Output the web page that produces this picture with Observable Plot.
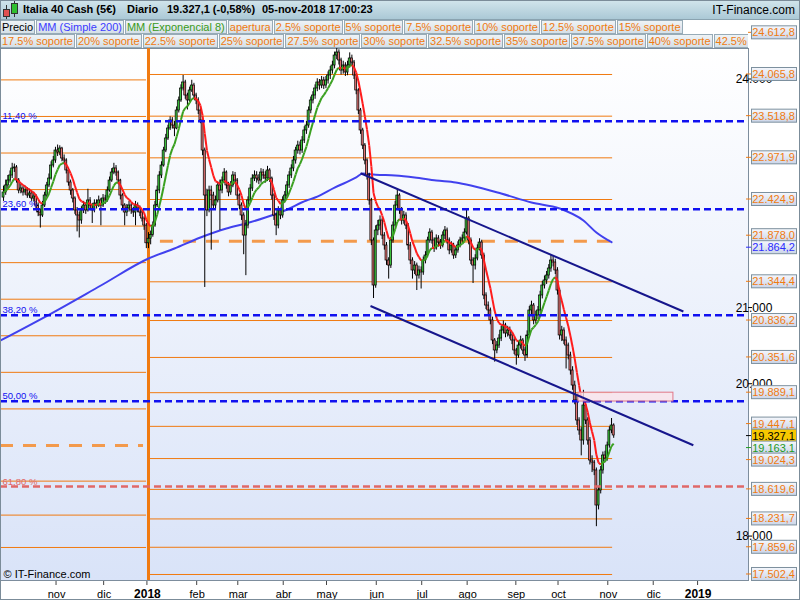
<!DOCTYPE html>
<html>
<head>
<meta charset="utf-8">
<script src="https://cdn.jsdelivr.net/npm/d3@7"></script>
<script src="https://cdn.jsdelivr.net/npm/@observablehq/plot@0.6"></script>
<style>
  html,body{margin:0;padding:0;background:#fff;}
  #wrap{position:relative;width:800px;height:600px;overflow:hidden;font-family:"Liberation Sans",Arial,Helvetica,sans-serif;}
  #chart{position:absolute;left:0;top:0;}
  #row1{position:absolute;left:0;top:0;width:800px;height:20px;background:linear-gradient(#d2e5ec,#abc9d6);border-bottom:1px solid #8aa3b0;box-sizing:border-box;}
  #row1 .t{position:absolute;top:3px;font-size:11px;font-weight:bold;color:#000;white-space:nowrap;}
  #row1 .site{position:absolute;top:3px;right:5px;font-size:12px;color:#000;}
  .row{position:absolute;left:0;width:748px;height:14px;overflow:hidden;white-space:nowrap;background:#fff;font-size:0;}
  .row span{display:inline-block;box-sizing:border-box;height:14px;line-height:12px;padding:0 1px;margin-right:1px;font-size:11px;background:linear-gradient(#eef3f6,#d5e0e7);border:1px solid #97abb7;color:#f07a10;vertical-align:top;}
  #border{position:absolute;left:0;top:0;width:800px;height:600px;box-sizing:border-box;border:1px solid #7b8c99;pointer-events:none;}
  .ic{position:absolute;border:1px solid #333;box-sizing:border-box;}
  .wk{position:absolute;width:1px;background:#333;}
</style>
</head>
<body>
<div id="wrap">
  <div id="chart"></div>
  <div id="row1">
    <div class="wk" style="left:6px;top:5px;height:14px"></div>
    <div class="ic" style="left:3px;top:9px;width:7px;height:8px;background:#e05050"></div>
    <div class="wk" style="left:14px;top:1px;height:16px"></div>
    <div class="ic" style="left:11px;top:3px;width:7px;height:11px;background:#30c030"></div>
    <span class="t" style="left:23px">Italia 40 Cash (5€)</span>
    <span class="t" style="left:127px">Diario</span>
    <span class="t" style="left:167px">19.327,1 (-0,58%)</span>
    <span class="t" style="left:262px">05-nov-2018 17:00:23</span>
    <span class="site">IT-Finance.com</span>
  </div>
  <div class="row" id="row2" style="top:20px"></div>
  <div class="row" id="row3" style="top:34px"></div>
  <div id="border"></div>
</div>
<script>
// ---------------- data ----------------
const firstIdx = -67;          // trading-day index of first candle (0 = first session of 2018)
const firstOpen = 22450;
const closes = [
 22517,22609,22674,22740,22832,22845,22674,22543,22569,22517,
 22543,22477,22504,22438,22464,22346,22254,22215,22346,22477,
 22609,22700,22871,22937,23068,23042,23094,22963,22937,22806,
 22648,22543,22438,22281,22215,22149,22281,22346,22281,22412,
 22346,22281,22372,22346,22412,22346,22438,22412,22543,22674,
 22779,22832,22779,22674,22477,22346,22254,22307,22346,22281,
 22254,22346,22307,22254,22175,22083,21850,
 21910,21960,22083,22346,22543,22740,22871,23068,23226,23357,
 23462,23396,23357,23593,23725,23882,23961,23790,23725,23856,
 23921,23790,23725,23593,23462,23068,22477,22281,22543,22477,
 22346,22412,22609,22543,22674,22779,22609,22517,22609,22740,
 22674,22477,22346,22215,21952,22083,22412,22569,22700,22740,
 22700,22674,22779,22740,22700,22806,22700,22477,22215,22083,
 22281,22215,22412,22477,22609,22740,22832,22937,23068,23133,
 23068,23199,23331,23396,23593,23725,23790,23882,23961,23921,
 23987,23921,23987,24053,24118,24184,24315,24354,24250,24118,
 24184,24092,24184,24276,24223,24053,23856,23593,23331,23133,
 22937,22740,22412,21887,21296,22018,22083,22149,21952,21821,
 21624,21558,21887,22083,22346,22477,22281,22149,22215,22083,
 21821,21624,21493,21558,21427,21493,21467,21624,21690,21887,
 21991,21887,21782,21913,21860,21821,21952,22018,21887,21756,
 21821,21690,21756,21821,21887,21913,21991,22175,21887,21624,
 21558,21650,21782,21860,21690,21165,21033,20968,20837,20574,
 20443,20508,20600,20705,20771,20666,20705,20640,20574,20443,
 20377,20508,20574,20443,20377,20640,20968,21033,20837,20902,
 20968,21165,21296,21362,21427,21519,21624,21598,21493,21230,
 20640,20705,20574,20508,20377,20180,19983,19787,19524,19393,
 19261,19721,19524,19261,18999,18972,18868,18408,18605,18868,
 19064,19025,19196,19393,19458,19327.1
];
const highs = [
 22600,22680,22740,22800,22900,22890,22870,22700,22630,22600,
 22600,22580,22560,22540,22520,22490,22380,22300,22400,22520,
 22650,22760,22920,22990,23110,23140,23130,23110,23010,22960,
 22830,22680,22570,22460,22320,22260,22330,22400,22380,22560,
 22450,22370,22420,22420,22470,22440,22490,22480,22590,22720,
 22830,22900,22870,22800,22690,22500,22370,22360,22400,22380,
 22320,22400,22380,22340,22280,22200,22110,
 21990,22010,22130,22400,22600,22790,22920,23110,23280,23400,
 23510,23500,23450,23640,23770,23930,24053,23990,23820,23900,
 23990,23950,23820,23760,23620,23480,23100,22560,22600,22600,
 22520,22470,22650,22680,22720,22830,22800,22650,22660,22790,
 22780,22700,22500,22380,22250,22150,22460,22620,22750,22800,
 22790,22750,22830,22820,22790,22860,22830,22720,22500,22240,
 22330,22310,22460,22530,22660,22790,22880,22990,23110,23190,
 23180,23250,23380,23450,23640,23770,23840,23930,24010,24000,
 24040,24030,24040,24100,24170,24240,24360,24430,24390,24280,
 24240,24220,24240,24350,24320,24250,24080,23880,23620,23360,
 23160,22960,22770,22440,21920,22080,22150,22210,22180,21990,
 21860,21660,21930,22130,22400,22560,22500,22320,22270,22250,
 22110,21860,21660,21610,21590,21550,21540,21670,21740,21930,
 22040,22020,21920,21960,21950,21900,22000,22070,22050,21920,
 21870,21850,21800,21870,21930,21960,22040,22300,22200,21920,
 21660,21700,21830,21910,21890,21720,21200,21080,21000,20880,
 20600,20560,20650,20760,20830,20800,20760,20750,20680,20610,
 20470,20560,20630,20600,20480,20700,21020,21090,21060,20960,
 21020,21220,21350,21420,21480,21570,21690,21680,21640,21530,
 21260,20760,20740,20620,20540,20420,20230,20040,19840,19560,
 19430,19920,19760,19560,19300,19060,19000,18900,18660,18920,
 19110,19120,19240,19440,19550,19480
];
const lows = [
 22400,22480,22560,22640,22700,22780,22640,22500,22500,22470,
 22480,22440,22440,22400,22390,22300,22200,22050,22190,22320,
 22450,22580,22680,22840,22900,22990,23000,22920,22880,22760,
 22600,22480,22380,22230,22000,21920,22100,22240,22230,22260,
 22300,22110,22250,22300,22320,22080,22320,22360,22390,22520,
 22650,22750,22730,22620,22420,22300,22080,22200,22260,22230,
 22190,22080,22250,22200,22130,22020,21780,
 21780,21830,21930,22060,22320,22500,22700,22850,23040,23200,
 23330,23350,23250,23340,23560,23700,23850,23740,23600,23700,
 23830,23740,23670,23540,23420,23000,21270,22200,22250,21760,
 22280,22300,22380,22020,22500,22640,22560,22460,22480,22580,
 22620,22420,22290,22150,21700,21425,22040,22380,22530,22660,
 22640,22620,22640,22690,22640,22660,22650,22420,22150,21950,
 22040,22160,22180,22380,22440,22570,22700,22790,22890,23020,
 23010,23030,23160,23280,23360,23550,23680,23740,23840,23860,
 23880,23870,23880,23940,24000,24070,24140,24260,24190,24060,
 24070,24040,24050,24150,24170,24000,23800,23540,23280,23080,
 22880,22680,22350,21820,21125,21260,21950,22020,21900,21760,
 21560,21380,21520,21850,22050,22300,22230,22090,22100,22030,
 21760,21570,21380,21440,21230,21380,21250,21430,21580,21660,
 21850,21840,21730,21760,21800,21770,21790,21900,21840,21700,
 21720,21640,21650,21720,21790,21850,21880,21960,21830,21570,
 21322,21500,21620,21750,21640,21110,20980,20910,20780,20520,
 20290,20400,20470,20560,20660,20610,20620,20590,20520,20390,
 20250,20340,20460,20390,20300,20340,20600,20900,20780,20790,
 20850,20920,21120,21250,21310,21380,21470,21540,21440,21170,
 20580,20560,20520,20200,20320,20120,19920,19730,19460,19330,
 19060,19200,19470,19200,18940,18840,18800,18130,18350,18560,
 18820,18970,18990,19160,19350,19290
];

// month ticks (trading-day index of month start) and labels
const monthTickIdx = [-42.5,-20.5,-0.5,22.5,41.5,62.5,82.5,105.5,126.5,147.5,170,189.5,212.5,233.5,254];
const monthTickLabels = ["nov","dic","2018","feb","mar","abr","may","jun","jul","ago","sep","oct","nov","dic","2019"];
const yearTickLabels = ["2018","2019"];

// MM (Simple 200)
const ma200Idx = [-68.4,-45,-22,0,12,24,36,45,54,63,73,77,86,96,99,105,114,123,133,142,149,163,177,190,201,207,214];
const ma200Val = [20574,20928,21296,21650,21782,21926,22044,22110,22189,22281,22412,22451,22582,22714,22766,22750,22740,22714,22674,22648,22609,22504,22385,22307,22149,21991,21864];

// yearly opening ("apertura") and 2.5% step levels
const open2017 = 19196;
const levels2017 = [23995,23515,23035,22555,22076,21596,21116,20636,20156,19676,18728,18282,17857];
const period2017 = [-68.4,-0.9];
const open2018 = 21878.0;
const levels2018 = [24612.8,24065.8,23518.8,22971.9,22424.9,21344.4,20836.2,20351.6,19889.1,19447.1,19024.3,18619.6,18231.7,17859.6,17502.4];
const period2018 = [0.9,214.5];
const openPeriod2018 = [5.5,214.5];

// Fibonacci retracements
const fibLabels = ["11,40 %","23,60 %","38,20 %","50,00 %","61,80 %"];
const fibValues = [23453,22297,20906,19777,18657];

// trend channel and highlighted zone
const trendX1 = [98.0,102.6], trendY1 = [22770,21027];
const trendX2 = [247.2,251.8], trendY2 = [20955,19199];
const zoneX = [198.7,242.6], zoneY = [19773,19889];

const lastPrice = 19327.1, lastMA200 = 21864.2, lastEMA8 = 19163.1;
const yAxisTicks = [18000,20000,21000,24000];   // the others are hidden under value boxes

const legendRow2 = [["Precio","#000"],["MM (Simple 200)","#3b3bff"],["MM (Exponencial 8)","#3a9a1a"],["apertura"],["2.5% soporte"],["5% soporte"],["7.5% soporte"],["10% soporte"],["12.5% soporte"],["15% soporte"]];
const legendRow3 = ["17.5% soporte","20% soporte","22.5% soporte","25% soporte","27.5% soporte","30% soporte","32.5% soporte","35% soporte","37.5% soporte","40% soporte","42.5% soporte"];

// ---------------- legend rows ----------------
const r2 = document.getElementById("row2");
legendRow2.forEach(([t,c]) => { const s = document.createElement("span"); s.textContent = t; if (c) s.style.color = c; r2.appendChild(s); });
const r3 = document.getElementById("row3");
legendRow3.forEach(t => { const s = document.createElement("span"); s.textContent = t; r3.appendChild(s); });

// ---------------- derived ----------------
const loc = d3.formatLocale({decimal: ",", thousands: ".", grouping: [3], currency: ["", "€"]});
const f1 = loc.format(",.1f"), f0 = loc.format(",.0f");

const candles = closes.map((c, k) => ({i: firstIdx + k, o: k === 0 ? firstOpen : closes[k - 1], h: highs[k], l: lows[k], c}));
const alpha = 2 / 9;
let e0 = closes[0];
const ema = closes.map((c, k) => (e0 = k === 0 ? c : e0 + alpha * (c - e0)));
const emaSegs = ema.slice(1).map((v, k) => ({x1: firstIdx + k, y1: ema[k], x2: firstIdx + k + 1, y2: v, up: v >= ema[k]}));
const ma200 = ma200Idx.map((i, k) => ({i, v: ma200Val[k]}));
const fibs = fibLabels.map((label, k) => ({label, v: fibValues[k], red: k === 4}));
const trends = trendX1.map((x, k) => ({x1: x, y1: trendY1[k], x2: trendX2[k], y2: trendY2[k]}));
const zone = [{x1: zoneX[0], x2: zoneX[1], y1: zoneY[0], y2: zoneY[1]}];
const months = monthTickIdx.map((i, k) => ({i, label: monthTickLabels[k], year: yearTickLabels.includes(monthTickLabels[k])}));

const ORANGE = "#f07a10";
const plot = Plot.plot({
  width: 800, height: 600,
  marginTop: 48, marginBottom: 20, marginLeft: 0, marginRight: 52,
  x: {domain: [-68.4, 277.3], axis: null},
  y: {domain: [17423.5, 24407.1], axis: null},
  style: {background: "transparent", overflow: "visible", fontFamily: "'Liberation Sans', Arial, sans-serif"},
  marks: [
    Plot.frame({fill: "url(#plotBg)", stroke: "#7d8d9d"}),
    Plot.ruleY(levels2017, {y: d => d, x1: period2017[0], x2: period2017[1], stroke: ORANGE, strokeWidth: 1}),
    Plot.ruleY([open2017], {y: d => d, x1: period2017[0], x2: -2.3, stroke: "#f39a4c", strokeWidth: 3, strokeDasharray: "13,10"}),
    Plot.ruleY(levels2018, {y: d => d, x1: period2018[0], x2: period2018[1], stroke: ORANGE, strokeWidth: 1}),
    Plot.ruleY([open2018], {y: d => d, x1: openPeriod2018[0], x2: openPeriod2018[1], stroke: "#f39a4c", strokeWidth: 3, strokeDasharray: "13,10"}),
    Plot.ruleX([0], {x: d => d, stroke: ORANGE, strokeWidth: 3}),
    Plot.line(ma200, {x: "i", y: "v", stroke: "#4141ee", strokeWidth: 2, curve: "monotone-x"}),
    Plot.ruleX(candles, {x: "i", y1: "l", y2: "h", stroke: "#000", strokeWidth: 1}),
    Plot.rect(candles, {x1: d => d.i - 0.46, x2: d => d.i + 0.46, y1: "o", y2: "c", fill: d => d.c >= d.o ? "#3cc43c" : "#e07272", stroke: "#000", strokeWidth: 0.7}),
    Plot.link(emaSegs.filter(d => d.up), {x1: "x1", y1: "y1", x2: "x2", y2: "y2", stroke: "#3aa020", strokeWidth: 2}),
    Plot.link(emaSegs.filter(d => !d.up), {x1: "x1", y1: "y1", x2: "x2", y2: "y2", stroke: "#ff1c1c", strokeWidth: 2}),
    Plot.ruleY(fibs.filter(d => !d.red), {y: "v", stroke: "#1010f0", strokeWidth: 2.5, strokeDasharray: "7,4"}),
    Plot.ruleY(fibs.filter(d => d.red), {y: "v", stroke: "#e06868", strokeWidth: 2.5, strokeDasharray: "7,4"}),
    Plot.text(fibs.filter(d => !d.red), {y: "v", text: "label", frameAnchor: "left", textAnchor: "start", lineAnchor: "bottom", dx: 2, dy: -2, fill: "#1010f0", fontSize: 9.5}),
    Plot.text(fibs.filter(d => d.red), {y: "v", text: "label", frameAnchor: "left", textAnchor: "start", lineAnchor: "bottom", dx: 2, dy: -2, fill: "#e06868", fontSize: 9.5}),
    Plot.rect(zone, {x1: "x1", x2: "x2", y1: "y1", y2: "y2", fill: "#fbe4ea", fillOpacity: 0.8, stroke: "#e07888", strokeWidth: 1}),
    Plot.link(trends, {x1: "x1", y1: "y1", x2: "x2", y2: "y2", stroke: "#16168c", strokeWidth: 2}),
    Plot.text(["© IT-Finance.com"], {text: d => d, frameAnchor: "bottom-left", textAnchor: "start", lineAnchor: "bottom", dx: 3, dy: -3, fill: "#000", fontSize: 11}),
    Plot.text(months.filter(d => !d.year), {x: "i", text: "label", frameAnchor: "bottom", lineAnchor: "bottom", dy: 17, fill: "#000", fontSize: 11}),
    Plot.text(months.filter(d => d.year), {x: "i", text: "label", frameAnchor: "bottom", lineAnchor: "bottom", dy: 17, fill: "#000", fontSize: 12, fontWeight: "bold"})
  ]
});
document.getElementById("chart").appendChild(plot);

// ---------------- decorations using the plot's scales ----------------
const svg = d3.select(plot);
svg.insert("defs", ":first-child").html(
  '<linearGradient id="plotBg" x1="0" y1="0" x2="0" y2="1"><stop offset="0" stop-color="#ffffff"/><stop offset="1" stop-color="#d9e3f8"/></linearGradient>' +
  '<linearGradient id="lblBg" x1="0" y1="0" x2="0" y2="1"><stop offset="0" stop-color="#f5f7fc"/><stop offset="1" stop-color="#cbd5e8"/></linearGradient>');
svg.selectAll('[aria-label="frame"] rect, rect[aria-label="frame"]').attr("fill", "url(#plotBg)");

const ys = plot.scale("y"), xs = plot.scale("x");
const right = 748;
const g = svg.append("g").attr("font-family", "'Liberation Sans', Arial, sans-serif");

// bottom ticks
months.forEach(d => {
  const x = xs.apply(d.i);
  g.append("line").attr("x1", x).attr("x2", x).attr("y1", 581).attr("y2", 585).attr("stroke", "#444");
});

// black price ticks
yAxisTicks.forEach(v => {
  const y = ys.apply(v);
  g.append("line").attr("x1", right).attr("x2", right + 4).attr("y1", y).attr("y2", y).attr("stroke", "#000");
  g.append("text").attr("x", right + 6).attr("y", y + 4).attr("font-size", 12).attr("fill", "#000").text(f0(v));
});

// boxed value labels
const labels = levels2018.map(v => ({v, color: ORANGE, fill: "url(#lblBg)"}));
labels.push({v: open2018, color: ORANGE, fill: "url(#lblBg)"});
labels.push({v: lastMA200, color: "#2b2bff", fill: "url(#lblBg)"});
labels.push({v: lastPrice, color: "#000", fill: "#f7c800"});
labels.push({v: lastEMA8, color: "#1e9a1e", fill: "url(#lblBg)"});
labels.forEach(d => d.py = ys.apply(d.v));
labels.sort((a, b) => a.py - b.py);
const gap = 12;
let groups = labels.map(d => ({m: [d], c: d.py}));
let changed = true;
while (changed) {
  changed = false;
  for (let k = 0; k < groups.length - 1; k++) {
    const A = groups[k], B = groups[k + 1];
    const aB = A.c + (A.m.length - 1) * gap / 2, bT = B.c - (B.m.length - 1) * gap / 2;
    if (bT - aB < gap) {
      const m = A.m.concat(B.m);
      groups.splice(k, 2, {m, c: d3.mean(m, d => d.py)});
      changed = true; break;
    }
  }
}
groups.forEach(G => G.m.forEach((d, k) => d.ly = G.c + (k - (G.m.length - 1) / 2) * gap));
labels.forEach(d => {
  g.append("line").attr("x1", right - 2).attr("x2", right + 4).attr("y1", d.ly).attr("y2", d.ly).attr("stroke", d.color);
  g.append("rect").attr("x", right + 3.5).attr("y", d.ly - 6.5).attr("width", 45).attr("height", 13)
    .attr("fill", d.fill).attr("stroke", "#7d909e");
  g.append("text").attr("x", right + 47).attr("y", d.ly + 4).attr("text-anchor", "end").attr("font-size", 11).attr("fill", d.color).text(f1(d.v));
});
</script>
</body>
</html>
